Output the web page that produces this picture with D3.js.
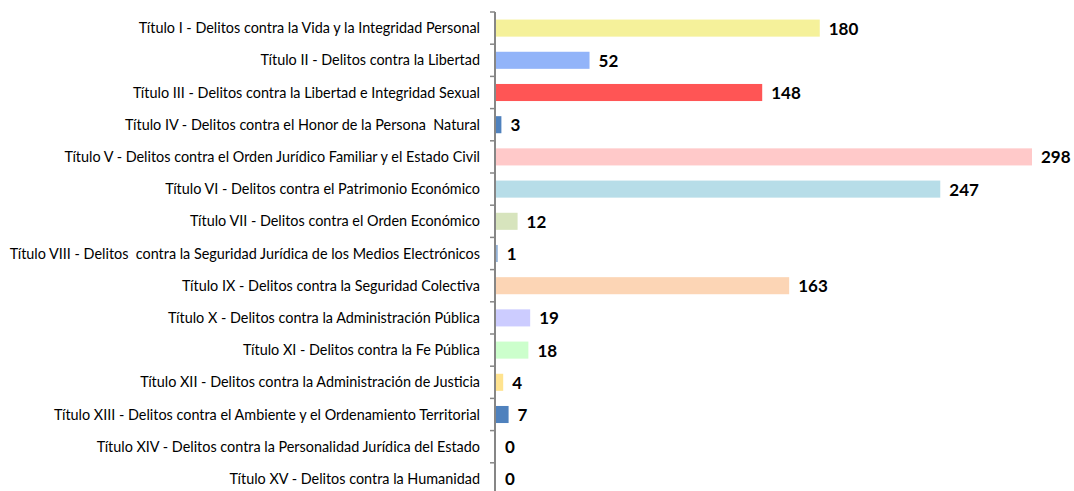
<!DOCTYPE html>
<html>
<head>
<meta charset="utf-8">
<script src="https://cdn.jsdelivr.net/npm/d3@7/dist/d3.min.js"></script>
<style>
  body { margin: 0; background: #fff; }
  svg text { font-family: Lato, "Liberation Sans", sans-serif; white-space: pre; }
</style>
</head>
<body>
<div id="chart"></div>
<script>
var categories = [
  "Título I - Delitos contra la Vida y la Integridad Personal",
  "Título II - Delitos contra la Libertad",
  "Título III - Delitos contra la Libertad e Integridad Sexual",
  "Título IV - Delitos contra el Honor de la Persona  Natural",
  "Título V - Delitos contra el Orden Jurídico Familiar y el Estado Civil",
  "Título VI - Delitos contra el Patrimonio Económico",
  "Título VII - Delitos contra el Orden Económico",
  "Título VIII - Delitos  contra la Seguridad Jurídica de los Medios Electrónicos",
  "Título IX - Delitos contra la Seguridad Colectiva",
  "Título X - Delitos contra la Administración Pública",
  "Título XI - Delitos contra la Fe Pública",
  "Título XII - Delitos contra la Administración de Justicia",
  "Título XIII - Delitos contra el Ambiente y el Ordenamiento Territorial",
  "Título XIV - Delitos contra la Personalidad Jurídica del Estado",
  "Título XV - Delitos contra la Humanidad"
];
var values = [180, 52, 148, 3, 298, 247, 12, 1, 163, 19, 18, 4, 7, 0, 0];
var colors = ["#F5F19A", "#92B4F9", "#FF5555", "#4F81BD", "#FFC9C9", "#B7DDE8",
  "#D7E4BD", "#95B3D7", "#FCD5B5", "#CCCCFF", "#CCFFCC", "#FFE38F", "#4F81BD",
  "#FFFFFF", "#FFFFFF"];

var width = 1074, height = 491;
var margin = {top: 12, left: 495};

var svg = d3.select("#chart").append("svg")
    .attr("width", width)
    .attr("height", height);

// scales
var x = d3.scaleLinear().domain([0, 298]).range([0, 536]);
var y = d3.scaleBand().domain(categories).range([0, 483]).paddingInner(0.47).paddingOuter(0.235);

var g = svg.append("g")
    .attr("transform", "translate(" + margin.left + "," + margin.top + ")");

// bars
g.selectAll("rect.bar")
  .data(values)
  .enter().append("rect")
    .attr("class", "bar")
    .attr("x", 1)
    .attr("y", function(d, i) { return y(categories[i]); })
    .attr("width", function(d) { return x(d); })
    .attr("height", y.bandwidth())
    .attr("fill", function(d, i) { return colors[i]; });

// value labels
g.selectAll("text.val")
  .data(values)
  .enter().append("text")
    .attr("class", "val")
    .attr("x", function(d) { return x(d) + 10; })
    .attr("y", function(d, i) { return y(categories[i]) + y.bandwidth() / 2; })
    .attr("dy", "0.38em")
    .style("font-size", "17px")
    .style("font-weight", "bold")
    .attr("fill", "#000")
    .text(function(d) { return d; });

// axis line with boundary ticks
var step = y.step();
var axis = g.append("g");
axis.append("line")
    .attr("x1", 0).attr("x2", 0)
    .attr("y1", 0).attr("y2", 483)
    .attr("stroke", "#868686").attr("stroke-width", 2);
axis.selectAll("line.tick")
  .data(d3.range(categories.length + 1))
  .enter().append("line")
    .attr("class", "tick")
    .attr("x1", -5).attr("x2", 0)
    .attr("y1", function(d) { return d * step; })
    .attr("y2", function(d) { return d * step; })
    .attr("stroke", "#868686").attr("stroke-width", 1.5);

// category labels
g.selectAll("text.cat")
  .data(categories)
  .enter().append("text")
    .attr("class", "cat")
    .attr("x", -15)
    .attr("y", function(d) { return y(d) + y.bandwidth() / 2; })
    .attr("dy", "0.35em")
    .attr("text-anchor", "end")
    .style("font-size", "14.4px")
    .attr("fill", "#000")
    .text(function(d) { return d; });
</script>
</body>
</html>
